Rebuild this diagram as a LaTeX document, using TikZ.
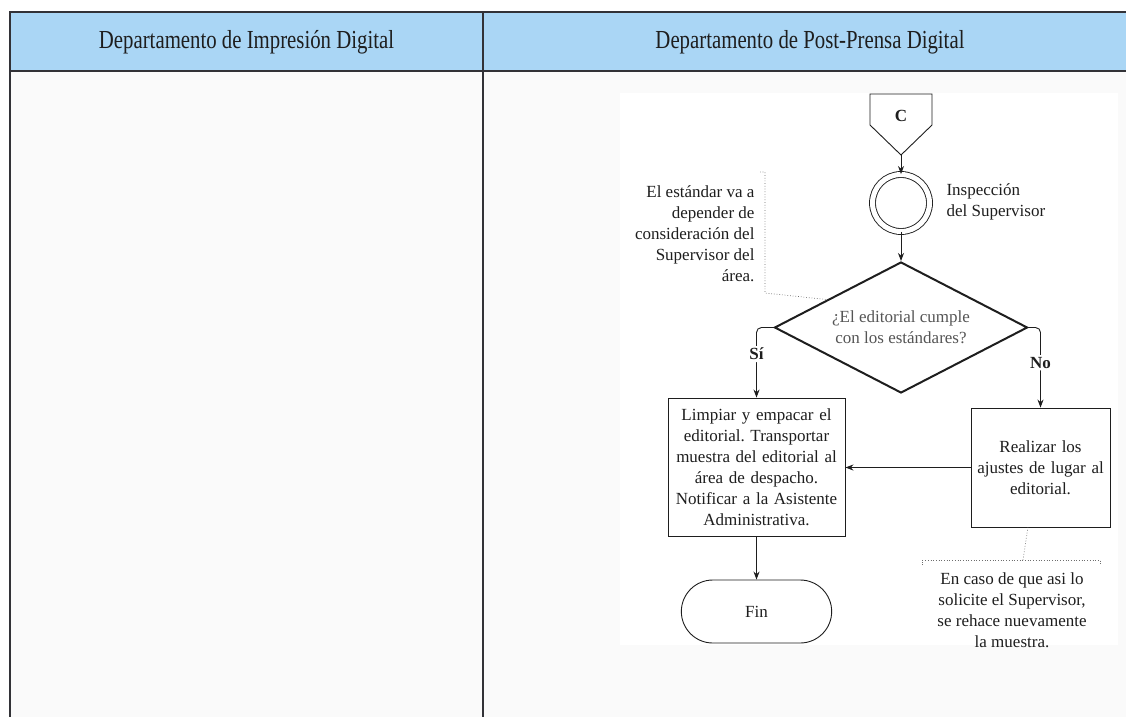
\documentclass[tikz,border=0pt]{standalone}
\usepackage{fontspec}
\setmainfont{Liberation Serif}
\newfontfamily\hdrfont[FakeStretch=0.8]{Liberation Serif}
\usetikzlibrary{arrows.meta,shapes.geometric,shapes.misc,calc}
\frenchspacing
\definecolor{hdrblue}{RGB}{170,214,245}
\definecolor{frame}{RGB}{50,50,55}
\definecolor{ink}{RGB}{30,30,30}
\definecolor{dectext}{RGB}{85,85,85}
\definecolor{lanebg}{RGB}{250,250,250}
\definecolor{notegray}{RGB}{110,110,110}
\tikzset{
  lanehdr/.style={font=\hdrfont\fontsize{26}{29}\selectfont, text=ink},
  body/.style={font=\fontsize{17}{21}\selectfont, text=ink, align=center},
  procbox/.style={draw=ink, line width=0.9pt, fill=white, body, inner sep=0pt},
  flow/.style={draw=ink, line width=0.9pt, -{Stealth[length=8pt,width=6pt]}},
  noteline/.style={draw=notegray, line width=0.7pt, dotted},
  branchlbl/.style={font=\bfseries\fontsize{17}{19}\selectfont, text=ink, fill=white, inner sep=2pt}
}
\begin{document}
\begin{tikzpicture}[x=1pt,y=-1pt]
\useasboundingbox (0,0) rectangle (1126,717);
% backgrounds
\fill[white] (0,0) rectangle (1126,717);
\fill[lanebg] (10,71) rectangle (1126,717);
\fill[white] (620,93) rectangle (1118,645);
\fill[hdrblue] (10,12) rectangle (1126,71);
% lane frame
\draw[frame, line width=2.2pt] (1126,12) -- (10,12) -- (10,717);
\draw[frame, line width=2.2pt] (10,71) -- (1126,71);
\draw[frame, line width=2.2pt] (483,12) -- (483,717);
% headers
\node[lanehdr] (h1) at (246.5,42) {Departamento de Impresión Digital};
\node[lanehdr] (h2) at (810,42) {Departamento de Post-Prensa Digital};

% off-page connector C
\coordinate (ctl) at (870,94);
\coordinate (ctr) at (932,94);
\coordinate (cbot) at (901,155);
\draw[ink, line width=0.9pt, fill=white] (ctl) -- (ctr) -- (932,125) -- (cbot) -- (870,125) -- cycle;
\node[font=\bfseries\fontsize{17}{19}\selectfont, text=ink] (clab) at (901,116) {C};

% inspection
\node[circle, draw=ink, line width=0.9pt, double, double distance=5pt, minimum size=57pt, inner sep=0pt] (insp) at (901,203) {};
\node[body, align=left, anchor=west] (insplab) at (943,202) {Inspección\\del Supervisor};

% decision
\node[diamond, draw=ink, line width=2pt, fill=white, minimum width=253pt, minimum height=131pt, aspect=1.93, inner sep=0pt,
      font=\fontsize{17}{21}\selectfont, text=dectext, align=center] (dec) at (901,327.5) {¿El editorial cumple\\con los estándares?};

% process boxes
\node[procbox, minimum width=177pt, minimum height=138pt, text width=174pt] (box1) at (756.5,467) {Limpiar y empacar el\\editorial. Transportar\\muestra del editorial al\\área de despacho.\\Notificar a la Asistente\\Administrativa.};
\node[procbox, minimum width=139pt, minimum height=119pt, text width=138pt] (box2) at (1040.5,467.5) {Realizar los\\ajustes de lugar al\\editorial.};

% terminator
\node[rounded rectangle, draw=ink, line width=0.9pt, fill=white, minimum width=157pt, minimum height=63pt, body] (fin) at (756.5,611.5) {Fin};

% connectors
\draw[flow] (cbot) -- (insp.north);
\draw[flow] (insp.south) -- (dec.north);
\draw[flow, rounded corners=5pt] (dec.west) -| node[branchlbl, pos=0.69] {Sí} (box1.north);
\draw[flow, rounded corners=5pt] (dec.east) -| node[branchlbl, pos=0.72] {No} (box2.north);
\draw[flow] (box2.west) -- (box2.west -| box1.east);
\draw[flow] (box1.south) -- (fin.north);

% note 1
\node[body, align=right, anchor=east] (note1) at (758,234) {El estándar va a\\depender de\\consideración del\\Supervisor del\\área.};
\coordinate (n1top) at (765,172);
\coordinate (n1tick) at (760,172);
\coordinate (n1bot) at (765,293);
\coordinate (n1dec) at ($(dec.north)!0.58!(dec.west)$);
\draw[noteline] (n1tick) -- (n1top) -- (n1bot) -- (n1dec);

% note 2
\node[body] (note2) at (1012,610) {En caso de que asi lo\\solicite el Supervisor,\\se rehace nuevamente\\la muestra.};
\coordinate (n2l) at (922,560);
\coordinate (n2r) at (1100,560);
\coordinate (n2mid) at (1023,560);
\coordinate (n2box) at ($(box2.south west)!0.41!(box2.south east)$);
\draw[noteline] (922,565) -- (n2l) -- (n2r) -- (1100,565);
\draw[noteline] (n2mid) -- (n2box);
\end{tikzpicture}
\end{document}
